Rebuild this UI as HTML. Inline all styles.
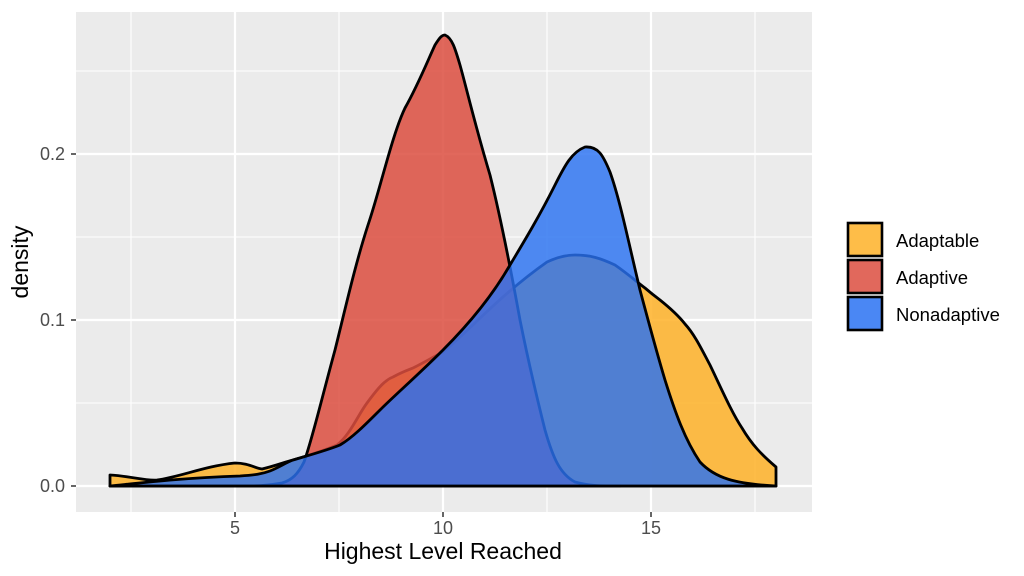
<!DOCTYPE html>
<html><head><meta charset="utf-8"><style>
body{margin:0;background:#fff;}
svg{display:block;font-family:"Liberation Sans",Arial,sans-serif;}
</style></head><body>
<svg width="1024" height="576" viewBox="0 0 1024 576">
<rect x="76" y="12" width="736" height="500" fill="#EBEBEB"/>
<g stroke="#fff" stroke-width="1.1">
<line x1="131" y1="12" x2="131" y2="512"/><line x1="339" y1="12" x2="339" y2="512"/><line x1="547" y1="12" x2="547" y2="512"/><line x1="755" y1="12" x2="755" y2="512"/>
<line x1="76" y1="403" x2="812" y2="403"/><line x1="76" y1="237" x2="812" y2="237"/><line x1="76" y1="71" x2="812" y2="71"/>
</g>
<g stroke="#fff" stroke-width="2.2">
<line x1="235" y1="12" x2="235" y2="512"/><line x1="443" y1="12" x2="443" y2="512"/><line x1="651" y1="12" x2="651" y2="512"/>
<line x1="76" y1="486" x2="812" y2="486"/><line x1="76" y1="320" x2="812" y2="320"/><line x1="76" y1="154" x2="812" y2="154"/>
</g>
<g stroke="#000" stroke-width="2.8" stroke-linejoin="round" fill-opacity="0.85">
<path fill="#FEB228" d="M110,486 L110,475 C130,476 145,481 157,480 C180,477 205,466 235,463 C248,463 255,468 262,469 C275,466 285,462 293,460 C310,455 325,450 337,445 C350,435 358,415 367,403 C378,388 385,380 393,377 C402,372 408,370 413,368 C425,362 435,356 443,352 C470,330 500,295 547,262 C560,256 568,255 575,255 C590,255 600,258 615,265 C628,274 637,282 645,288 C652,294 656,297 660,300 C670,308 678,315 685,324 C695,335 702,350 710,365 C722,390 732,413 742,428 C752,445 762,455 776,467 L776,486 Z"/>
<path fill="#DC4E40" d="M110,486 L250,486 C262,486 270,485 282,483 C292,480 298,474 304,462 C312,440 320,405 335,350 C345,310 355,265 368,225 C380,190 392,135 405,108 C418,85 428,60 435,45 C440,37 442,35 445,35 C452,38 455,48 460,65 C467,90 475,125 490,175 C500,215 510,265 520,320 C527,355 535,390 545,430 C553,458 560,474 575,482 C590,486 600,486 620,486 Z"/>
<path fill="#2A72F2" fill-opacity="0.82" d="M110,486 C140,483 180,478 240,476 C255,475 262,474 270,471 C280,467 285,463 293,460 C310,455 328,450 340,445 C352,438 365,425 380,410 C395,395 418,375 443,350 C465,328 490,300 510,265 C525,240 540,215 555,185 C565,165 572,152 585,147 C598,146 603,155 610,172 C620,200 628,240 640,290 C648,320 656,350 665,380 C675,412 685,440 700,462 C715,478 735,484 776,486 Z"/>
</g>
<g stroke="#333" stroke-width="1.5">
<line x1="235" y1="512" x2="235" y2="517"/><line x1="443" y1="512" x2="443" y2="517"/><line x1="651" y1="512" x2="651" y2="517"/>
<line x1="71" y1="486" x2="76" y2="486"/><line x1="71" y1="320" x2="76" y2="320"/><line x1="71" y1="154" x2="76" y2="154"/>
</g>
<g fill="#4D4D4D" font-size="18">
<text x="235" y="534" text-anchor="middle">5</text>
<text x="443" y="534" text-anchor="middle">10</text>
<text x="651" y="534" text-anchor="middle">15</text>
<text x="65" y="492" text-anchor="end">0.0</text>
<text x="65" y="326" text-anchor="end">0.1</text>
<text x="65" y="160" text-anchor="end">0.2</text>
</g>
<text x="443" y="559" text-anchor="middle" font-size="23" fill="#000">Highest Level Reached</text>
<text transform="translate(28,262) rotate(-90)" text-anchor="middle" font-size="23" fill="#000">density</text>
<g stroke="#000" stroke-width="2.6" fill-opacity="0.85">
<rect x="848" y="223" width="34" height="33" fill="#FEB228"/>
<rect x="848" y="260" width="34" height="33" fill="#DC4E40"/>
<rect x="848" y="297" width="34" height="33" fill="#2A72F2"/>
</g>
<g font-size="18.5" fill="#000">
<text x="896" y="247">Adaptable</text>
<text x="896" y="284">Adaptive</text>
<text x="896" y="321">Nonadaptive</text>
</g>
</svg>
</body></html>
